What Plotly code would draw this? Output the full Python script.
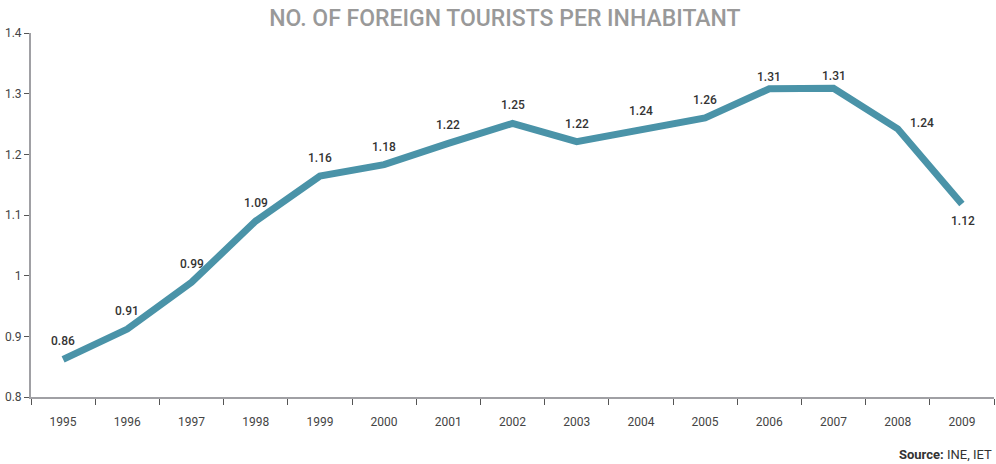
import plotly.graph_objects as go

years = ["1995", "1996", "1997", "1998", "1999", "2000", "2001", "2002",
         "2003", "2004", "2005", "2006", "2007", "2008", "2009"]
values = [0.862, 0.912, 0.989, 1.09, 1.164, 1.183, 1.218, 1.251,
          1.221, 1.241, 1.26, 1.308, 1.309, 1.242, 1.118]
labels = ["0.86", "0.91", "0.99", "1.09", "1.16", "1.18", "1.22", "1.25",
          "1.22", "1.24", "1.26", "1.31", "1.31", "1.24", "1.12"]
y_ticks = [0.8, 0.9, 1.0, 1.1, 1.2, 1.3, 1.4]
y_ticktext = ["0.8", "0.9", "1", "1.1", "1.2", "1.3", "1.4"]

fig = go.Figure()
fig.add_trace(go.Scatter(
    x=years, y=values, mode="lines",
    line=dict(color="#4a93a8", width=7),
    hoverinfo="skip",
))

# label offsets (pixels) relative to each point
special = {"2006": (0, 12), "2007": (0, 12), "2008": (24, 6), "2009": (1, -17)}
for i, (yr, v, lab) in enumerate(zip(years, values, labels)):
    dx, dy = special.get(yr, (0, 18))
    fig.add_annotation(
        x=i, y=v, xref="x", yref="y", text=lab, showarrow=False,
        xshift=dx, yshift=dy, xanchor="center", yanchor="middle",
        font=dict(family="Roboto", size=12, color="#333333", weight=500),
    )

fig.update_layout(
    width=996, height=464,
    margin=dict(l=31, r=2, t=33, b=67),
    paper_bgcolor="white", plot_bgcolor="white",
    showlegend=False,
    title=dict(text="NO. OF FOREIGN TOURISTS PER INHABITANT",
               x=0.507, xanchor="center", y=0.962, yanchor="middle",
               font=dict(family="Roboto", size=23, color="#999999", weight=500)),
    font=dict(family="Roboto", size=12, color="#444444"),
)
fig.update_xaxes(
    type="category", range=[-0.5, 14.5], automargin=False,
    showgrid=False, showline=True, linecolor="#a0a0a4",
    linewidth=2, ticks="outside", tickson="boundaries", ticklen=6,
    tickcolor="#555555", tickwidth=1, ticklabelstandoff=13,
    tickfont=dict(family="Roboto", size=12, color="#444444"),
)
fig.update_yaxes(
    range=[0.8, 1.4], tickvals=y_ticks, ticktext=y_ticktext, automargin=False,
    showgrid=False, zeroline=False, showline=True, linecolor="#a0a0a4",
    linewidth=2, ticks="outside", ticklen=5, tickcolor="#555555", tickwidth=1,
    tickfont=dict(family="Roboto", size=12, color="#444444"),
)
fig.add_annotation(
    text="<b>Source:</b> INE, IET", xref="paper", yref="paper",
    x=1, y=-0.159, xanchor="right", yanchor="middle", showarrow=False,
    font=dict(family="Roboto", size=13, color="#333333"),
)
fig.write_html("out.html", config={"displayModeBar": False},
               post_script="document.body.style.margin='0';document.body.style.overflow='hidden';")
